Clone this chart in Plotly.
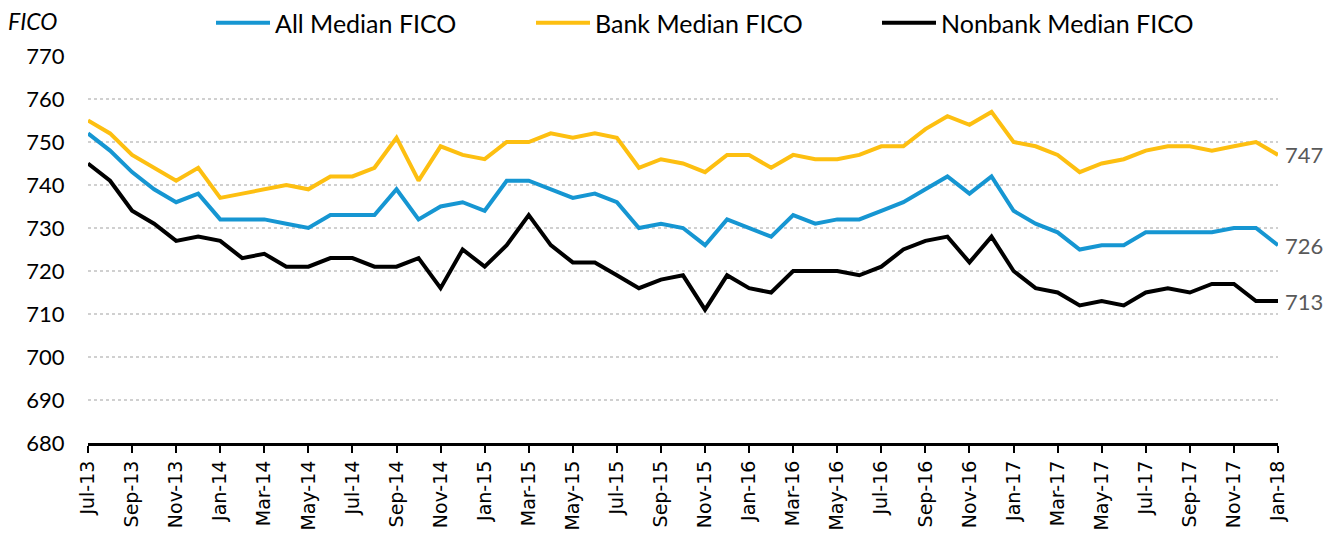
import plotly.graph_objects as go

months = ["Jul-13","Aug-13","Sep-13","Oct-13","Nov-13","Dec-13",
          "Jan-14","Feb-14","Mar-14","Apr-14","May-14","Jun-14","Jul-14","Aug-14","Sep-14","Oct-14","Nov-14","Dec-14",
          "Jan-15","Feb-15","Mar-15","Apr-15","May-15","Jun-15","Jul-15","Aug-15","Sep-15","Oct-15","Nov-15","Dec-15",
          "Jan-16","Feb-16","Mar-16","Apr-16","May-16","Jun-16","Jul-16","Aug-16","Sep-16","Oct-16","Nov-16","Dec-16",
          "Jan-17","Feb-17","Mar-17","Apr-17","May-17","Jun-17","Jul-17","Aug-17","Sep-17","Oct-17","Nov-17","Dec-17",
          "Jan-18"]

all_median = [752,748,743,739,736,738,732,732,732,731,730,733,733,733,739,732,735,736,734,741,741,739,737,738,736,730,731,730,726,732,
              730,728,733,731,732,732,734,736,739,742,738,742,734,731,729,725,726,726,729,729,729,729,730,730,726]
bank_median = [755,752,747,744,741,744,737,738,739,740,739,742,742,744,751,741,749,747,746,750,750,752,751,752,751,744,746,745,743,747,
               747,744,747,746,746,747,749,749,753,756,754,757,750,749,747,743,745,746,748,749,749,748,749,750,747]
nonbank_median = [745,741,734,731,727,728,727,723,724,721,721,723,723,721,721,723,716,725,721,726,733,726,722,722,719,716,718,719,711,719,
                  716,715,720,720,720,719,721,725,727,728,722,728,720,716,715,712,713,712,715,716,715,717,717,713,713]

series_names = ["All Median FICO", "Bank Median FICO", "Nonbank Median FICO"]
series_colors = ["#1696d2", "#fdbf11", "#000000"]
series_values = [all_median, bank_median, nonbank_median]
y_ticks = [680, 690, 700, 710, 720, 730, 740, 750, 760, 770]
x_ticks = months[::2]

W, H = 1338, 535
OFF = 8  # page body margin
L, R, T, B = 88 - OFF, 1338 - 1278 + OFF, 56 - OFF, 535 - 443 + OFF
pw, ph = W - L - R, H - T - B

def px2paper_x(px):
    return (px - OFF - L) / pw

def px2paper_y(py):
    return (H - B - (py - OFF)) / ph

fig = go.Figure()
legend_names = ["legend", "legend2", "legend3"]
legend_px = [211, 531, 877]
for name, color, vals, lg in zip(series_names, series_colors, series_values, legend_names):
    fig.add_trace(go.Scatter(x=months, y=vals, mode="lines", name=name,
                             line=dict(color=color, width=4), legend=lg))

for vals in series_values:
    fig.add_annotation(x=months[-1], y=vals[-1], text=str(vals[-1]), showarrow=False,
                       xanchor="left", yanchor="middle", xshift=5,
                       font=dict(family="Lato", size=22, color="#595959"))

fig.add_annotation(xref="paper", yref="paper", x=px2paper_x(6), y=px2paper_y(21),
                   text="<i>FICO</i>", showarrow=False, xanchor="left", yanchor="middle",
                   font=dict(family="Lato", size=23, color="#000000"))

legend_common = dict(orientation="h", xanchor="left", yanchor="top",
                     font=dict(family="Lato", size=25, color="#000000"),
                     bgcolor="rgba(0,0,0,0)", itemwidth=54)
layout_legends = {}
for lg, lx in zip(legend_names, legend_px):
    layout_legends[lg] = dict(legend_common, x=px2paper_x(lx), y=px2paper_y(OFF - 8))

fig.update_layout(
    width=W, height=H,
    margin=dict(l=L, r=R, t=T, b=B, autoexpand=False),
    paper_bgcolor="white", plot_bgcolor="white",
    showlegend=True,
    **layout_legends,
    xaxis=dict(type="category", range=[0, len(months) - 1], tickmode="array", tickvals=x_ticks,
               ticktext=x_ticks, tickangle=-90, ticks="outside", ticklen=7, tickwidth=2,
               tickcolor="#000000", showline=True, linecolor="#000000", linewidth=3,
               showgrid=False, zeroline=False, automargin=False,
               tickfont=dict(family="DejaVu Sans", size=19, color="#000000")),
    yaxis=dict(range=[680, 770], tickmode="array", tickvals=y_ticks, ticks="outside",
               ticklen=18, tickcolor="rgba(0,0,0,0)", showline=False, zeroline=False,
               showgrid=True, gridcolor="#d0d0d0", gridwidth=2, griddash="dot", automargin=False,
               tickfont=dict(family="Lato", size=22, color="#000000")),
)

fig.write_html("out.html")
